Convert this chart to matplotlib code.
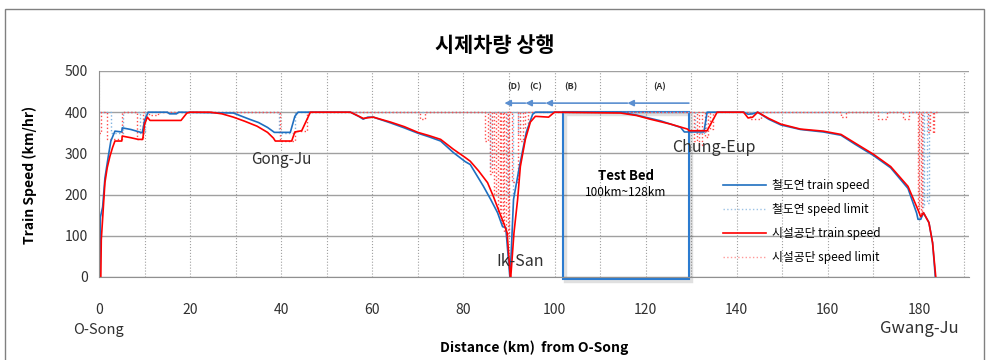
import matplotlib
matplotlib.use("Agg")
import matplotlib.pyplot as plt
from matplotlib.patches import Rectangle

plt.rcParams['font.family'] = ['Noto Sans CJK KR', 'DejaVu Sans']

# 철도연 train speed
km_blue = [0.2, 0.3, 0.8, 1.3, 2.0, 2.6, 3.5, 5.0, 5.1, 7.0, 9.5, 10.0, 10.8, 15.0, 15.5, 17.0, 17.5,
           29.5, 33.0, 35.0, 37.0, 38.5, 42.0, 43.0, 43.7, 55.2, 57.0, 58.0, 59.0, 60.2, 64.0, 67.0,
           70.0, 72.5, 75.0, 77.8, 80.4, 81.5, 84.4, 86.0, 87.5, 88.6, 89.3, 90.2, 90.5, 91.0, 92.3,
           93.8, 95.2, 95.8, 114.5, 118.0, 121.0, 123.3, 127.7, 128.5, 132.8, 133.5, 141.5, 142.5,
           143.5, 144.6, 147.0, 149.7, 154.0, 159.0, 162.9, 166.0, 170.0, 173.8, 177.6, 179.5, 179.8,
           180.4, 181.0, 182.2, 183.0, 183.6]
spd_blue = [0, 145, 170, 240, 290, 330, 354, 352, 362, 358, 350, 380, 400, 400, 396, 396, 400,
            398, 383, 375, 363, 351, 351, 390, 400, 400, 390, 383, 388, 388, 374, 362,
            349, 340, 330, 302, 280, 273, 220, 188, 156, 122, 120, 0, 60, 188, 268,
            351, 395, 400, 400, 393, 385, 379, 363, 352, 352, 400, 400, 395,
            396, 400, 383, 369, 358, 352, 344, 322, 295, 265, 215, 155, 140,
            140, 156, 132, 83, 0]

# 시설공단 train speed
km_red = [0.4, 0.5, 0.6, 1.3, 1.8, 2.4, 3.0, 3.5, 5.0, 5.1, 7.0, 8.6, 9.6, 10.0, 10.6, 11.2, 18.0,
          19.3, 20.0, 24.4, 27.0, 29.5, 32.0, 34.7, 37.0, 38.3, 38.7, 42.3, 43.0, 44.5, 46.4, 55.2,
          58.0, 60.2, 64.0, 67.0, 70.0, 72.5, 75.0, 77.8, 80.4, 81.5, 83.3, 85.3, 86.6, 87.7, 88.8,
          89.6, 90.3, 90.4, 91.1, 91.9, 92.5, 93.6, 94.7, 95.8, 98.7, 100.0, 114.5, 118.0, 121.0,
          125.5, 129.2, 129.5, 133.5, 135.7, 141.5, 142.5, 143.5, 144.6, 147.0, 149.7, 154.0, 159.0,
          162.9, 166.0, 170.0, 173.8, 177.6, 179.8, 180.4, 181.0, 182.2, 183.0, 183.7]
spd_red = [0, 90, 107, 229, 265, 293, 315, 330, 330, 342, 338, 334, 334, 370, 388, 380, 380,
           398, 400, 400, 396, 388, 378, 366, 351, 337, 330, 330, 352, 355, 400, 400,
           385, 388, 376, 365, 351, 343, 334, 310, 290, 281, 258, 229, 195, 163, 132,
           107, 0, 0, 107, 188, 268, 334, 376, 390, 388, 400, 398, 392, 383,
           371, 359, 355, 355, 400, 400, 386, 388, 400, 385, 371, 359, 354,
           346, 325, 298, 268, 220, 163, 146, 156, 132, 83, 0]

# 철도연 speed limit (steps)
km_lim_blue = [0, 2.6, 5.2, 9.0, 10.2, 39.6, 43.0, 85.8, 86.2, 89.6, 90.8, 92.0, 92.5, 130.8,
               133.2, 180.8, 181.2, 181.8, 182.2, 184.0]
lim_blue = [400, 350, 400, 350, 400, 350, 400, 270, 400, 200, 400, 350, 400, 350,
            400, 171, 400, 180, 400, 400]

# 시설공단 speed limit (steps)
km_lim_red = [0, 0.5, 1.7, 5.0, 8.4, 9.6, 11.0, 13.0, 39.8, 43.0, 45.6, 70.5, 71.6, 84.8, 85.3,
              85.8, 86.3, 86.8, 87.2, 87.6, 88.0, 88.3, 88.7, 89.0, 89.4, 89.7, 90.0, 90.6,
              92.0, 92.4, 93.0, 93.6, 94.2, 130.6, 131.2, 131.8, 132.4, 133.0, 133.6, 134.2,
              134.8, 143.0, 145.3, 163.0, 164.0, 171.0, 173.0, 176.5, 177.8, 179.8, 180.1,
              180.4, 180.7, 182.0, 182.4, 183.1, 183.4, 184.0]
lim_red = [350, 400, 335, 400, 335, 400, 393, 400, 330, 355, 400, 383, 400, 330, 400,
           250, 400, 200, 400, 160, 400, 130, 400, 110, 400, 100, 400, 230,
           400, 330, 400, 360, 400, 330, 400, 320, 400, 340, 400, 360,
           400, 383, 400, 388, 400, 383, 400, 383, 400, 163, 400,
           150, 400, 351, 400, 350, 400, 400]

fig = plt.figure(figsize=(9.89, 3.6), dpi=100)
ax = fig.add_axes([0.1001, 0.2306, 0.8797, 0.5722])

ax.step(km_lim_blue, lim_blue, where='post', color='#7fb2e0', lw=1.0, ls=':')
ax.step(km_lim_red, lim_red, where='post', color='#ff4a4a', lw=1.0, ls=':')
ax.plot(km_blue, spd_blue, color='#1f6fc0', lw=1.2)
ax.plot(km_red, spd_red, color='#ff0000', lw=1.2)

# legend handles
h1, = ax.plot([], [], color='#1f6fc0', lw=1.2, label='철도연 train speed')
h2, = ax.plot([], [], color='#9dc3e6', lw=1.0, ls=':', label='철도연 speed limit')
h3, = ax.plot([], [], color='#ff0000', lw=1.2, label='시설공단 train speed')
h4, = ax.plot([], [], color='#ff9999', lw=1.0, ls=':', label='시설공단 speed limit')
ax.legend(handles=[h1, h2, h3, h4], loc='upper left', bbox_to_anchor=(0.712, 0.50),
          frameon=False, fontsize=8.5, handlelength=3.6, handletextpad=0.5,
          labelspacing=0.95, borderaxespad=0)

ax.set_xlim(0, 191)
ax.set_ylim(0, 500)
ax.set_xticks(range(0, 181, 20))
ax.set_yticks(range(0, 501, 100))
ax.set_xticks(range(0, 191, 10), minor=True)
ax.grid(axis='y', color='#a0a0a0', lw=1.0)
ax.grid(axis='x', which='both', color='#a0a0a0', lw=0.8, ls=':')
ax.tick_params(axis='x', length=0, pad=19, labelsize=10, colors='#303030')
ax.tick_params(axis='x', which='minor', length=0)
ax.tick_params(axis='y', length=0, pad=8, labelsize=10, colors='#303030')
for s in ['top', 'right']:
    ax.spines[s].set_visible(False)
for s in ['left', 'bottom']:
    ax.spines[s].set_color('#909090')
ax.set_axisbelow(True)

# test bed box with a soft shadow
ax.add_patch(Rectangle((102.3, -9), 27.7, 405, fill=False, edgecolor='#000000', alpha=0.12,
                       lw=2.5, clip_on=False))
ax.add_patch(Rectangle((101.8, -5), 27.7, 405, fill=False, edgecolor='#2b7bd0', lw=1.5,
                       clip_on=False))
ax.text(115.6, 245, 'Test Bed', ha='center', va='center', fontsize=9.5, fontweight='bold')
ax.text(115.6, 205, '100km~128km', ha='center', va='center', fontsize=8.5)

# arrows
for x0, x1 in [(129.5, 116), (116, 98), (98, 93.6), (93.6, 89)]:
    ax.annotate('', xy=(x1, 422), xytext=(x0, 422), annotation_clip=False,
                arrowprops=dict(arrowstyle='-|>', color='#5b8fd0', lw=1.2, mutation_scale=9,
                                shrinkA=0, shrinkB=0))
for lab, x in [('(A)', 123), ('(B)', 103.7), ('(C)', 95.8), ('(D)', 91)]:
    ax.text(x, 461, lab, ha='center', va='center', fontsize=6.5, fontweight='bold', color='#303030')

# station names
ax.text(40, 285, 'Gong-Ju', ha='center', va='center', fontsize=11, color='#303030')
ax.text(135, 315, 'Chung-Eup', ha='center', va='center', fontsize=11.5, color='#303030')
ax.text(92.5, 37, 'Ik-San', ha='center', va='center', fontsize=11.5, color='#303030')
ax.text(0, -129, 'O-Song', ha='center', va='center', fontsize=10.5, color='#303030', clip_on=False)
ax.text(180, -124, 'Gwang-Ju', ha='center', va='center', fontsize=12, color='#303030', clip_on=False)

fig.text(0.5, 1 - 45 / 360, '시제차량 상행', ha='center', va='center', fontsize=15, fontweight='bold')
fig.text(0.54, 1 - 348 / 360, 'Distance (km)  from O-Song', ha='center', va='center',
         fontsize=10, fontweight='bold')
fig.text(30 / 989, 1 - 175 / 360, 'Train Speed (km/hr)', ha='center', va='center', rotation=90,
         fontsize=10, fontweight='bold')

fig.patches.append(Rectangle((5 / 989, -0.1), 979 / 989, 1.1 - 9 / 360, transform=fig.transFigure,
                             fill=False, edgecolor='#808080', lw=1.0))

fig.savefig('out.png', dpi=100)
